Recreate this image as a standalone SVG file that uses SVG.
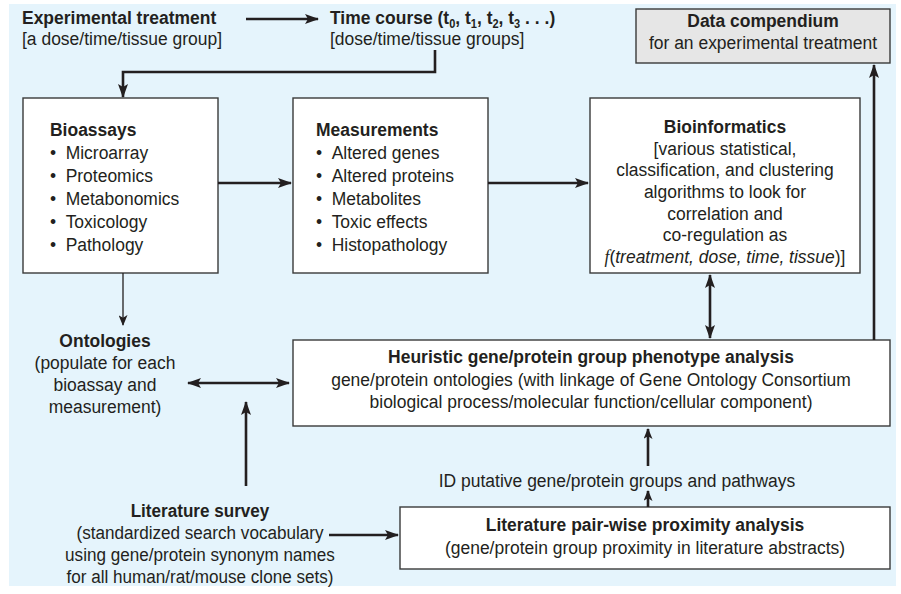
<svg xmlns="http://www.w3.org/2000/svg" width="901" height="594" viewBox="0 0 901 594">
  <defs>
    <style>
      text { font-family: "Liberation Sans", Arial, sans-serif; font-size: 19px; fill: #231f20; }
      .b { font-weight: bold; }
      .c { text-anchor: middle; }
      .i { font-style: italic; }
      .sub { font-size: 12px; baseline-shift: -4px; }
      .box { fill: #ffffff; stroke: #3a3a3a; stroke-width: 1.4; }
      .grey { fill: #e6e6e6; stroke: #3a3a3a; stroke-width: 1.4; }
      .ln { fill: none; stroke: #231f20; stroke-width: 2.6; }
      .thin { fill: none; stroke: #231f20; stroke-width: 1.3; }
    </style>
    <marker id="ah" viewBox="0 0 14 10" refX="13" refY="5" markerWidth="14" markerHeight="10" markerUnits="userSpaceOnUse" orient="auto-start-reverse">
      <path d="M0,0 L14,5 L0,10 L3,5 Z" fill="#231f20"/>
    </marker>
    <marker id="ahs" viewBox="0 0 12 10" refX="11" refY="5" markerWidth="11" markerHeight="9" markerUnits="userSpaceOnUse" orient="auto-start-reverse">
      <path d="M0,0 L12,5 L0,10 L3,5 Z" fill="#231f20"/>
    </marker>
  </defs>

  <!-- background panel -->
  <rect x="9" y="4" width="887" height="582" fill="#e5f4fc"/>

  <!-- all lettering is a condensed sans: horizontal scale 0.92 -->
  <g id="experimental-treatment">
    <text transform="translate(22 24) scale(.92 1)" class="b">Experimental treatment</text>
    <text transform="translate(22 45) scale(.92 1)">[a dose/time/tissue group]</text>
  </g>

  <g id="time-course">
    <text transform="translate(330 24) scale(.92 1)" class="b">Time course (t<tspan class="sub">0</tspan>, t<tspan class="sub">1</tspan>, t<tspan class="sub">2</tspan>, t<tspan class="sub">3</tspan> . . .)</text>
    <text transform="translate(330 45) scale(.92 1)">[dose/time/tissue groups]</text>
  </g>

  <g id="data-compendium">
    <rect x="636" y="9" width="254" height="54" class="grey"/>
    <text transform="translate(763 27) scale(.92 1)" class="b c">Data compendium</text>
    <text transform="translate(763 49) scale(.92 1)" class="c">for an experimental treatment</text>
  </g>

  <g id="bioassays">
    <rect x="23" y="98" width="195" height="175" class="box"/>
    <text transform="translate(50 136) scale(.92 1)" class="b">Bioassays</text>
    <text transform="translate(50 159) scale(.92 1)">•<tspan x="17">Microarray</tspan></text>
    <text transform="translate(50 182) scale(.92 1)">•<tspan x="17">Proteomics</tspan></text>
    <text transform="translate(50 205) scale(.92 1)">•<tspan x="17">Metabonomics</tspan></text>
    <text transform="translate(50 228) scale(.92 1)">•<tspan x="17">Toxicology</tspan></text>
    <text transform="translate(50 251) scale(.92 1)">•<tspan x="17">Pathology</tspan></text>
  </g>

  <g id="measurements">
    <rect x="293" y="98" width="195" height="175" class="box"/>
    <text transform="translate(316 136) scale(.92 1)" class="b">Measurements</text>
    <text transform="translate(316 159) scale(.92 1)">•<tspan x="17">Altered genes</tspan></text>
    <text transform="translate(316 182) scale(.92 1)">•<tspan x="17">Altered proteins</tspan></text>
    <text transform="translate(316 205) scale(.92 1)">•<tspan x="17">Metabolites</tspan></text>
    <text transform="translate(316 228) scale(.92 1)">•<tspan x="17">Toxic effects</tspan></text>
    <text transform="translate(316 251) scale(.92 1)">•<tspan x="17">Histopathology</tspan></text>
  </g>

  <g id="bioinformatics">
    <rect x="590" y="98" width="270" height="175" class="box"/>
    <text transform="translate(725 133) scale(.92 1)" class="b c">Bioinformatics</text>
    <text transform="translate(725 155) scale(.92 1)" class="c">[various statistical,</text>
    <text transform="translate(725 176) scale(.92 1)" class="c">classification, and clustering</text>
    <text transform="translate(725 198) scale(.92 1)" class="c">algorithms to look for</text>
    <text transform="translate(725 220) scale(.92 1)" class="c">correlation and</text>
    <text transform="translate(725 241) scale(.92 1)" class="c">co-regulation as</text>
    <text transform="translate(725 263) scale(.92 1)" class="c"><tspan class="i" font-family="Liberation Serif, serif">f</tspan>(<tspan class="i">treatment, dose, time, tissue</tspan>)]</text>
  </g>

  <g id="ontologies">
    <text transform="translate(105 347) scale(.92 1)" class="b c">Ontologies</text>
    <text transform="translate(105 369) scale(.92 1)" class="c">(populate for each</text>
    <text transform="translate(105 391) scale(.92 1)" class="c">bioassay and</text>
    <text transform="translate(105 413) scale(.92 1)" class="c">measurement)</text>
  </g>

  <g id="heuristic-analysis">
    <rect x="293" y="340" width="597" height="86" class="box"/>
    <text transform="translate(591 363) scale(.92 1)" class="b c">Heuristic gene/protein group phenotype analysis</text>
    <text transform="translate(591 386) scale(.92 1)" class="c">gene/protein ontologies (with linkage of Gene Ontology Consortium</text>
    <text transform="translate(591 408) scale(.92 1)" class="c">biological process/molecular function/cellular component)</text>
  </g>

  <g id="putative-groups">
    <text transform="translate(617 487) scale(.92 1)" class="c">ID putative gene/protein groups and pathways</text>
  </g>

  <g id="literature-survey">
    <text transform="translate(200 517) scale(.9 1)" class="b c">Literature survey</text>
    <text transform="translate(200 539) scale(.9 1)" class="c">(standardized search vocabulary</text>
    <text transform="translate(200 561) scale(.9 1)" class="c">using gene/protein synonym names</text>
    <text transform="translate(200 583) scale(.9 1)" class="c">for all human/rat/mouse clone sets)</text>
  </g>

  <g id="literature-proximity">
    <rect x="400" y="507" width="490" height="62" class="box"/>
    <text transform="translate(645 531) scale(.92 1)" class="b c">Literature pair-wise proximity analysis</text>
    <text transform="translate(645 554) scale(.92 1)" class="c">(gene/protein group proximity in literature abstracts)</text>
  </g>

  <g id="connectors">
    <line x1="246" y1="19" x2="318" y2="19" class="ln" marker-end="url(#ah)"/>
    <polyline points="435,50 435,72 123,72 123,97" class="ln" marker-end="url(#ah)"/>
    <line x1="218" y1="183" x2="291" y2="183" class="ln" marker-end="url(#ah)"/>
    <line x1="488" y1="183" x2="588" y2="183" class="ln" marker-end="url(#ah)"/>
    <line x1="123" y1="273" x2="123" y2="325" class="thin" marker-end="url(#ahs)"/>
    <line x1="188" y1="383" x2="289" y2="383" class="ln" marker-start="url(#ah)" marker-end="url(#ah)"/>
    <line x1="246" y1="486" x2="246" y2="402" class="ln" marker-end="url(#ah)"/>
    <line x1="710" y1="275" x2="710" y2="338" class="ln" marker-start="url(#ah)" marker-end="url(#ah)"/>
    <line x1="874" y1="340" x2="874" y2="65" class="ln" marker-end="url(#ah)"/>
    <line x1="648" y1="466" x2="648" y2="429" class="ln" marker-end="url(#ahs)"/>
    <line x1="648" y1="507" x2="648" y2="491" class="ln" marker-end="url(#ahs)"/>
    <line x1="329" y1="535" x2="398" y2="535" class="ln" marker-end="url(#ah)"/>
  </g>
</svg>
